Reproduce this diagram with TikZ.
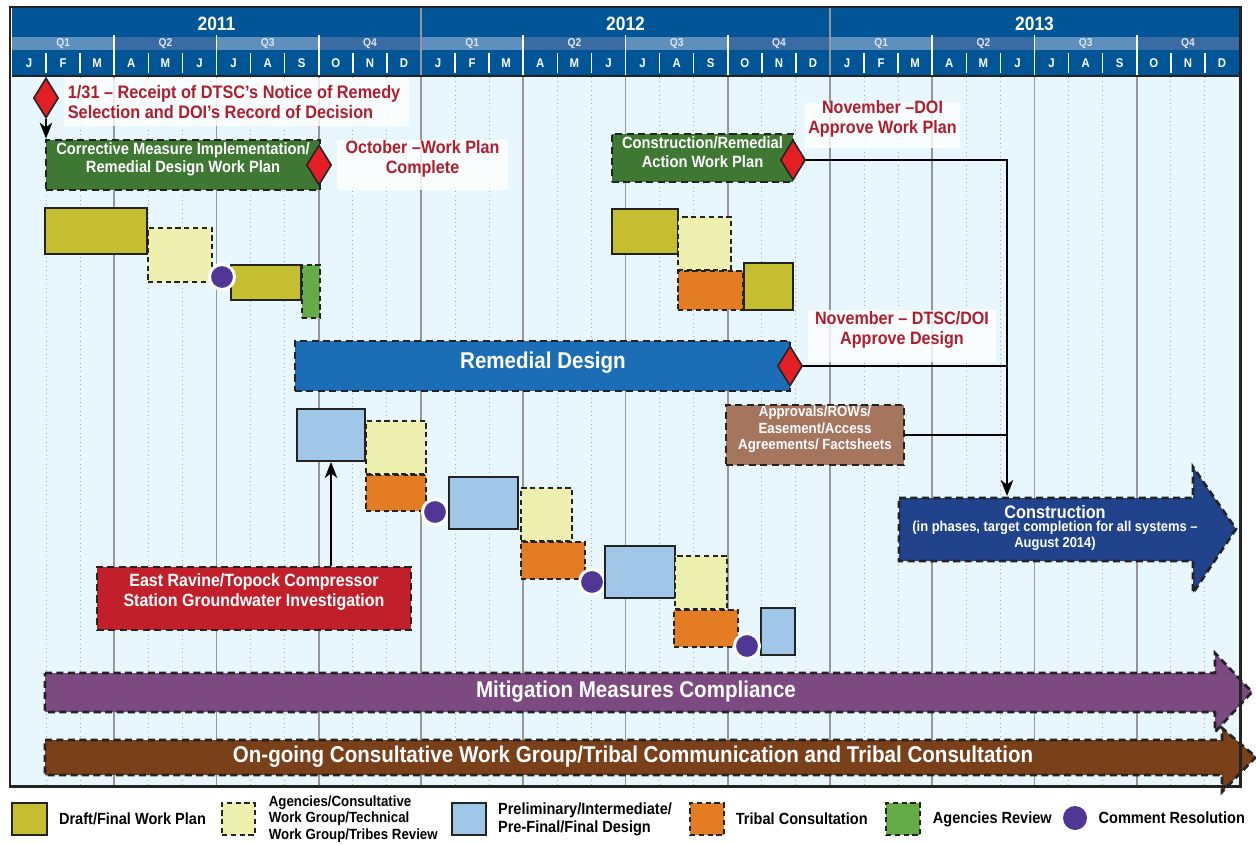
\documentclass[tikz,border=0pt]{standalone}
\usepackage{fontspec}
\setmainfont{Liberation Sans}[FakeStretch=0.9]
\usetikzlibrary{arrows.meta,positioning,fit,shapes.geometric}

\definecolor{hdrblue}{RGB}{0,85,150}
\definecolor{qlight}{RGB}{95,143,188}
\definecolor{qdark}{RGB}{58,108,163}
\definecolor{bodybg}{RGB}{232,246,253}
\definecolor{gridgray}{RGB}{150,150,155}
\definecolor{framegray}{RGB}{35,35,35}
\definecolor{msred}{RGB}{227,30,36}
\definecolor{notered}{RGB}{175,30,45}
\definecolor{wpgreen}{RGB}{62,120,50}
\definecolor{draftc}{RGB}{196,190,48}
\definecolor{reviewc}{RGB}{238,240,175}
\definecolor{tribalc}{RGB}{228,124,36}
\definecolor{agencyc}{RGB}{102,172,70}
\definecolor{designc}{RGB}{160,198,232}
\definecolor{cmtc}{RGB}{80,55,150}
\definecolor{rdblue}{RGB}{27,110,182}
\definecolor{apprc}{RGB}{166,117,94}
\definecolor{constrc}{RGB}{33,67,140}
\definecolor{ravinec}{RGB}{193,32,42}
\definecolor{mitigc}{RGB}{124,74,128}
\definecolor{ongoingc}{RGB}{122,64,26}

\begin{document}
\begin{tikzpicture}[x=0.02cm, y=-0.02cm,
    yearlbl/.style={text=white, font=\bfseries\fontsize{11}{12}\selectfont},
    qlbl/.style={text=white!85!hdrblue, font=\bfseries\fontsize{6.5}{7}\selectfont},
    mlbl/.style={text=white, font=\bfseries\fontsize{7.2}{8}\selectfont},
    note/.style={fill=white, fill opacity=0.8, text opacity=1, text=notered, align=center, inner sep=0pt, font=\bfseries\fontsize{10.2}{11.4}\selectfont},
    bar/.style={inner sep=0pt},
    draft/.style={bar, fill=draftc, draw=framegray, line width=1.1pt},
    review/.style={bar, fill=reviewc, draw=framegray, line width=0.9pt, dash pattern=on 3pt off 2pt},
    tribal/.style={review, fill=tribalc},
    agency/.style={review, fill=agencyc},
    design/.style={draft, fill=designc},
    cmt/.style={circle, fill=cmtc, draw=white, line width=1.7pt, minimum size=0.5cm, inner sep=0pt},
    milestone/.style={diamond, fill=msred, draw=framegray, line width=0.9pt, minimum width=0.5cm, minimum height=0.8cm, inner sep=0pt},
    task/.style={draw=framegray, line width=1.5pt, dash pattern=on 4pt off 2.5pt, text=white, align=center, inner sep=0pt},
    bigbar/.style={draw=framegray, line width=1.5pt, dash pattern=on 4pt off 2.5pt},
    bartxt/.style={text=white, font=\bfseries\fontsize{13}{14}\selectfont},
    link/.style={line width=1.6pt, black},
    arr/.style={link, -{Stealth[length=9pt, width=7pt, inset=2.5pt]}},
    legtxt/.style={anchor=west, align=left, inner sep=1pt, font=\bfseries\fontsize{9.2}{10.4}\selectfont}
  ]
  \useasboundingbox (0,0) rectangle (1256,844);

  \fill[hdrblue] (12,8) rectangle (1239,76);
  \foreach \q in {0,...,11} {
    \ifodd\q \def\qc{qdark}\else \def\qc{qlight}\fi
    \fill[\qc] ({12+102.25*\q},37) rectangle ({12+102.25*(\q+1)},50);
    \pgfmathtruncatemacro\qn{mod(\q,4)+1}
    \node[qlbl] at ({12+102.25*(\q+0.5)},43.5) {Q\qn};
  }
  \foreach \yr/\ylab in {0/2011,1/2012,2/2013} {
    \node[yearlbl] at ({12+409*(\yr+0.5)},24) {\ylab};
    \foreach \l [count=\i from 0] in {J,F,M,A,M,J,J,A,S,O,N,D}
      \node[mlbl] at ({12+34.083*(12*\yr+\i+0.5)},63) {\l};
  }
  \fill[bodybg] (12,77) rectangle (1239,785);
  \foreach \m in {1,...,35} {
    \pgfmathtruncatemacro\r{mod(\m,3)}
    \ifnum\r=0
      \draw[white, line width=0.9pt] ({12+34.083*\m},35) -- ({12+34.083*\m},75);
      \draw[gridgray, line width=1pt] ({12+34.083*\m},77) -- ({12+34.083*\m},785);
    \else
      \draw[white, line width=0.9pt] ({12+34.083*\m},53) -- ({12+34.083*\m},73);
      \draw[gridgray!80, line width=0.5pt, dotted] ({12+34.083*\m},77) -- ({12+34.083*\m},785);
    \fi
  }
  \foreach \m in {12,24}
    \draw[gridgray, line width=1.3pt] ({12+34.083*\m},8) -- ({12+34.083*\m},785);
  \draw[framegray, line width=1.4pt] (12,76) -- (1239,76);

  \node[note, anchor=north west, text width=6.75cm, minimum height=0.96cm, inner xsep=2pt, align=flush left, font=\bfseries\fontsize{10.3}{11.4}\selectfont] (n1) at (64,78) {1/31 – Receipt of DTSC’s Notice of Remedy\\Selection and DOI’s Record of Decision};
  \node[note, fit={(337,140) (508,190)}] (n2) {October –Work Plan\\Complete};
  \node[note, fit={(805,103) (960,148)}] (n3) {November –DOI\\Approve Work Plan};
  \node[note, fit={(808,310) (996,362)}] (n4) {November – DTSC/DOI\\Approve Design};

  \node[task, fill=wpgreen, fit={(46,140) (320,190)}, font=\bfseries\fontsize{9.3}{10.4}\selectfont] (cmi) {Corrective Measure Implementation/\\Remedial Design Work Plan};
  \node[task, fill=wpgreen, fit={(612,134) (793,182)}, font=\bfseries\fontsize{9.3}{10.4}\selectfont] (crawp) {Construction/Remedial\\Action Work Plan};
  \node[task, fill=rdblue, fit={(295,341) (790,391)}] (rd) {};
  \node[bartxt] at (543,363) {Remedial Design};
  \node[task, fill=apprc, fit={(726,405) (904,465)}, font=\bfseries\fontsize{8.4}{9.4}\selectfont] (appr) {Approvals/ROWs/\\Easement/Access\\Agreements/ Factsheets};
  \node[task, fill=ravinec, fit={(97,567) (411,630)}, font=\bfseries\fontsize{10.1}{11.4}\selectfont] (ravine) {East Ravine/Topock Compressor\\Station Groundwater Investigation};

  \node[draft, fit={(45,208) (147,254)}] (wp1) {};
  \node[review, fit={(148,228) (212,282)}] (rv1) {};
  \node[draft, fit={(231,265) (301,300)}] (wp2) {};
  \node[agency, fit={(302,265) (320,318)}] (ag1) {};
  \node[cmt] (cr1) at (222,277) {};

  \node[draft, fit={(612,209) (678,254)}] (wp3) {};
  \node[review, fit={(678,217) (731,270)}] (rv2) {};
  \node[tribal, fit={(678,271) (743,310)}] (tc1) {};
  \node[draft, fit={(744,263) (793,310)}] (wp4) {};

  \node[design, fit={(297,409) (365,461)}] (ds1) {};
  \node[review, fit={(366,421) (426,474)}] (rv3) {};
  \node[tribal, fit={(366,475) (426,511)}] (tc2) {};
  \node[cmt] (cr2) at (435,512) {};
  \node[design, fit={(449,477) (518,529)}] (ds2) {};
  \node[review, fit={(521,488) (572,541)}] (rv4) {};
  \node[tribal, fit={(521,542) (585,579)}] (tc3) {};
  \node[cmt] (cr3) at (592,582) {};
  \node[design, fit={(605,546) (675,598)}] (ds3) {};
  \node[review, fit={(675,556) (727,609)}] (rv5) {};
  \node[tribal, fit={(674,610) (738,647)}] (tc4) {};
  \node[design, fit={(761,608) (795,655)}] (ds4) {};
  \node[cmt] (cr4) at (747,646) {};

  \node[milestone] (d1) at (46,98) {};
  \node[milestone] (d2) at (319,165) {};
  \node[milestone] (d3) at (793,160) {};
  \node[milestone] (d4) at (790,366) {};

  \draw[bigbar, fill=constrc] (899,498) -- (1193,498) -- (1193,467) -- (1236,529) -- (1193,593) -- (1193,561) -- (899,561) -- cycle;
  \node[text=white, align=center, inner sep=0pt, font=\bfseries\fontsize{10.3}{11}\selectfont] (constr) at (1055,512) {Construction};
  \node[text=white, align=center, below=1pt of constr, inner sep=0pt, font=\bfseries\fontsize{8.2}{9}\selectfont] (constrsub) {(in phases, target completion for all systems –\\August 2014)};
  \coordinate (constrtop) at (1007,496);

  \draw[bigbar, fill=mitigc] (45,673) -- (1215,673) -- (1215,653) -- (1252,692) -- (1215,732) -- (1215,712) -- (45,712) -- cycle;
  \node[bartxt] (mitig) at (636,692) {Mitigation Measures Compliance};
  \draw[bigbar, fill=ongoingc] (45,740) -- (1222,740) -- (1222,728) -- (1256,757) -- (1222,792) -- (1222,775) -- (45,775) -- cycle;
  \node[bartxt] (ongoing) at (633,757) {On-going Consultative Work Group/Tribal Communication and Tribal Consultation};

  \draw[arr] (d1.south) -- (d1.south |- cmi.north);
  \draw[arr] (ravine.north -| ds1) -- (ds1.south);
  \draw[arr] (d3.east) -| (constrtop);
  \draw[link] (d4.east) -- (d4.east -| constrtop);
  \draw[link] (appr.east) -- (appr.east -| constrtop);

  \draw[framegray, line width=1.7pt] (10,7) rectangle (1240,786);

  \node[draft, fit={(12,803) (47,835)}] (lgdraft) {};
  \node[legtxt, right=0.18cm of lgdraft] {Draft/Final Work Plan};
  \node[review, fit={(222,803) (255,835)}] (lgreview) {};
  \node[legtxt, right=0.22cm of lgreview, font=\bfseries\fontsize{8.4}{9.4}\selectfont] {Agencies/Consultative\\Work Group/Technical\\Work Group/Tribes Review};
  \node[design, fit={(452,803) (486,835)}] (lgdesign) {};
  \node[legtxt, right=0.18cm of lgdesign] {Preliminary/Intermediate/\\Pre-Final/Final Design};
  \node[tribal, fit={(690,803) (724,835)}] (lgtribal) {};
  \node[legtxt, right=0.18cm of lgtribal] {Tribal Consultation};
  \node[agency, fit={(886,803) (920,835)}] (lgagency) {};
  \node[legtxt, right=0.2cm of lgagency] {Agencies Review};
  \node[cmt, draw=none, minimum size=0.48cm] (lgcmt) at (1075,818) {};
  \node[legtxt, right=0.16cm of lgcmt] {Comment Resolution};
\end{tikzpicture}
\end{document}
